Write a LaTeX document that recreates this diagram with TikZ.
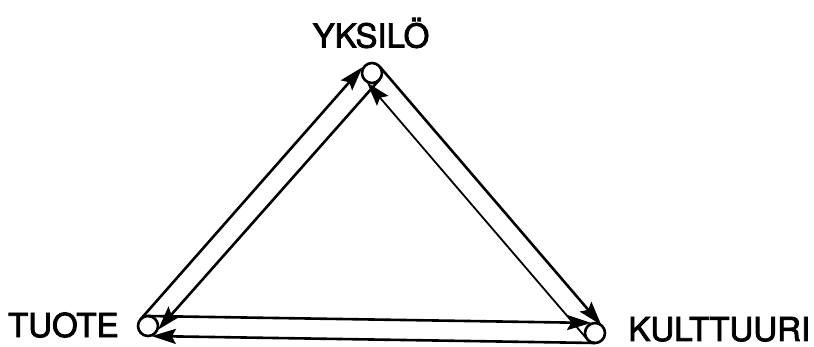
\documentclass[tikz,border=0pt]{standalone}
\usepackage{fontspec}
\setmainfont{TeX Gyre Heros}
\newfontfamily\polefont{TeX Gyre Heros}[FakeBold=2.5]
\usetikzlibrary{arrows.meta,calc}
\begin{document}
\begin{tikzpicture}[x=0.5pt, y=-0.5pt,
    pole/.style={circle, draw, line width=1.3pt, minimum size=10pt, inner sep=0pt},
    polelabel/.style={font=\polefont\fontsize{16.5}{16.5}\selectfont, inner sep=0pt},
    flow/.style={line width=1.3pt, -{Stealth[length=12pt, width=7.5pt, inset=2pt]}},
    thinflow/.style={line width=0.9pt, -{Stealth[length=12pt, width=7.5pt, inset=2pt]}}]
  \useasboundingbox (0,0) rectangle (814,347);

  % Poles
  \node[pole] (Y) at (372,73) {};
  \node[pole] (T) at (148,326) {};
  \node[pole] (K) at (595,333) {};

  % Labels
  \node[polelabel] (Ylab) at (371,33) {YKSILÖ};
  \node[polelabel, anchor=east] (Tlab) at (119,325) {TUOTE};
  \node[polelabel, anchor=base west] (Klab) at (628,341) {KULTTUURI};

  % Left side
  \draw[flow, shorten >=1pt] ($(T)!5pt!90:(Y)$) -- ($(Y)!5.5pt!-90:(T)$);
  \draw[flow, shorten >=2pt] ($(Y)!5pt!90:(T)$) -- ($(T)!5pt!-90:(Y)$);

  % Right side
  \draw[flow, shorten >=1pt] ($(Y)!5pt!90:(K)$) -- ($(K)!5pt!-90:(Y)$);
  \draw[thinflow, shorten >=2pt] ($(K)!5pt!90:(Y)$) -- ($(Y)!5pt!-90:(K)$);

  % Bottom
  \draw[flow, shorten >=2pt] ($(T)!5pt!90:(K)$) -- ($(K)!5pt!-90:(T)$);
  \draw[flow, shorten >=2pt] ($(K)!5pt!90:(T)$) -- ($(T)!5pt!-90:(K)$);
\end{tikzpicture}
\end{document}
